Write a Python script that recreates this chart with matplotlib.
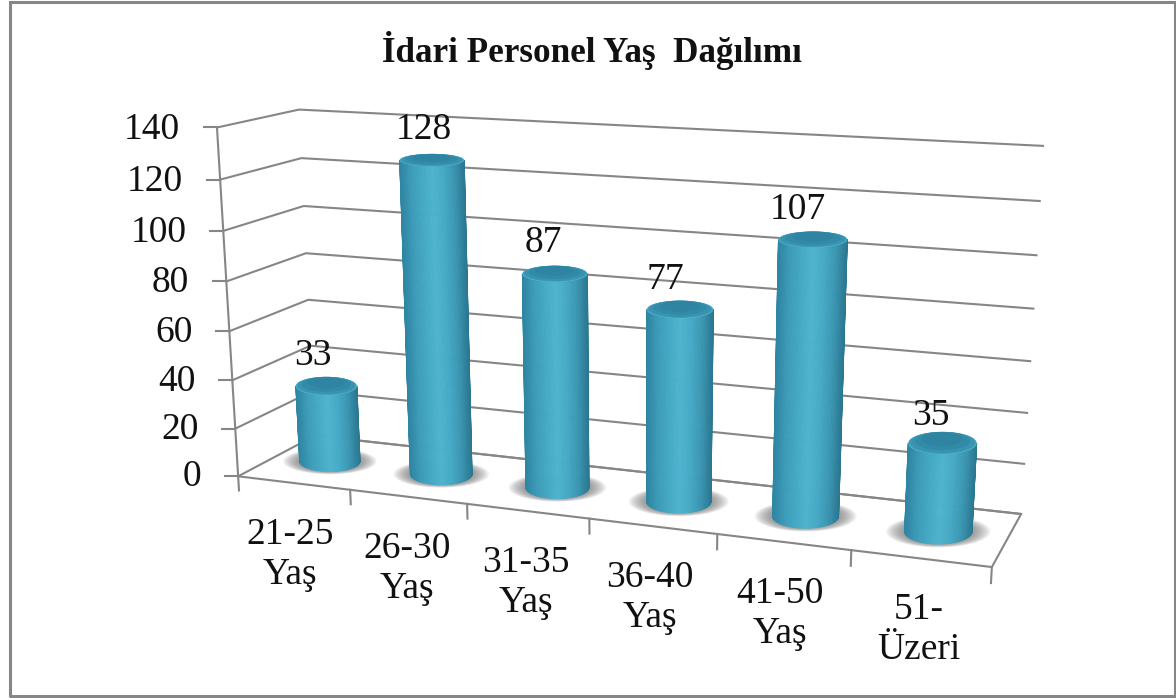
# Idari personel yas dagilimi - 3D cylinder chart drawn with a perspective projection
import numpy as np
import matplotlib
matplotlib.use('Agg')
import matplotlib.pyplot as plt
from matplotlib.collections import PolyCollection
from matplotlib.colors import LinearSegmentedColormap

# Chart data
categories = ['21-25\nYaş', '26-30\nYaş', '31-35\nYaş', '36-40\nYaş', '41-50\nYaş', '51-\nÜzeri']
values = [33, 128, 87, 77, 107, 35]
y_ticks = [0, 20, 40, 60, 80, 100, 120, 140]
title = 'İdari Personel Yaş  Dağılımı'

# Pixel position of the category labels and the value labels
cat_label_x = [290, 407, 526, 650, 780, 919]
cat_label_y = [552, 566, 580, 595, 611, 627]
val_label_x = [313, 424, 543, 665, 798, 931]
val_label_y = [353, 127, 240, 277, 207, 413]

# Box corners (category, depth, value) and where they land in the picture
corners_3d = [(0, 0, 0), (0, 0, 140), (0, 1, 0), (0, 1, 140),
              (6, 1, 0), (6, 1, 140), (6, 0, 0)]
corners_px = [(238, 475), (217, 128), (315, 437), (299, 109),
              (1021, 513), (1043, 146), (992, 568)]

GRID = '#868686'
FONT = 'Liberation Serif'
R_U = 0.27      # cylinder radius along categories
V_C = 0.50      # depth of the cylinder axis
TOP_DROP = 0.8  # the lids sit a little under the gridline of their value


# Fit the projection matrix from the corners
def fit_camera(pts3, pts2):
    rows = []
    for (u, v, y), (px, py) in zip(pts3, pts2):
        rows.append([u, v, y, 1, 0, 0, 0, 0, -px * u, -px * v, -px * y, -px])
        rows.append([0, 0, 0, 0, u, v, y, 1, -py * u, -py * v, -py * y, -py])
    _, _, vt = np.linalg.svd(np.array(rows, dtype=float))
    return vt[-1].reshape(3, 4)


cam = fit_camera(corners_3d, corners_px)


def proj(u, v, y):
    u, v, y = np.broadcast_arrays(u, v, y)
    p = cam @ np.vstack([u.ravel(), v.ravel(), y.ravel(), np.ones(u.size)])
    return p[0] / p[2], p[1] / p[2]


# Flat ellipse of a cylinder end: centre, half width, half height in pixels
def disc(uc, val):
    x, y = proj([uc - 0.5, uc, uc + 0.5], V_C, val)
    a = (x[2] - x[0]) * R_U * (1.04 - 0.021 * uc)
    b = a * (0.12 + 0.00047 * y[1])
    return x[1], y[1], a, b


fig = plt.figure(figsize=(11.76, 6.98), dpi=100)
ax = fig.add_axes([0, 0, 1, 1])
ax.set_xlim(0, 1176)
ax.set_ylim(698, 0)
ax.axis('off')

# Outer frame
ax.plot([9.5, 1174.5, 1174.5, 9.5, 9.5], [2, 2, 695.5, 695.5, 2], color=GRID, lw=2.2, zorder=1)

# Grid on the left and back walls
for t in y_ticks:
    x, y = proj([0, 0, 6], [0, 1, 1], t)
    ax.plot(x, y, color=GRID, lw=1.5, zorder=2, solid_joinstyle='round')
    ax.plot([x[0] - 13, x[0]], [y[0], y[0]], color=GRID, lw=1.5, zorder=2)
    ax.text(x[0] - 37, y[0] + 0.5 + t / 70, str(t), family=FONT, fontsize=27, ha='right', va='center',
            color='#111111', zorder=6)

# Left axis and floor
x, y = proj([0, 0], [0, 0], [0, 140])
ax.plot(x, y, color=GRID, lw=1.5, zorder=2)
x, y = proj([0, 6, 6, 0], [0, 0, 1, 1], 0)
ax.plot(x, y, color=GRID, lw=1.5, zorder=2)

# Category ticks
for i in range(len(categories) + 1):
    x, y = proj([i, i], [0, 0], [0, -6])
    ax.plot(x, y, color=GRID, lw=1.5, zorder=2)

# Left to right across the body
body_cmap = LinearSegmentedColormap.from_list(
    'body', ['#2f86a3', '#3c9cb9', '#45a9c4', '#4fb4cf', '#46a9c5', '#3a95b1', '#2b7690'])

th_front = np.linspace(0, np.pi, 61)
th_full = np.linspace(0, 2 * np.pi, 73)

for i, val in enumerate(values):
    uc = i + 0.5
    uc = uc - 0.0185 + 0.003 * uc
    bx, by, ba, bb = disc(uc, 0)
    tx, ty, ta, tb = disc(uc, val - TOP_DROP)

    # Soft shadow on the floor
    for s in np.linspace(1.55, 1.0, 14):
        ax.fill(bx + ba * s * np.cos(th_full), by + bb * (1 + (s - 1) * 0.5) * np.sin(th_full),
                color='#666666', alpha=0.07, lw=0, zorder=3)

    # Body, one strip per angle so the shading follows the round side
    low_x = bx + ba * np.cos(th_front)
    low_y = by + bb * np.sin(th_front)
    up_x = tx + ta * np.cos(th_front)
    up_y = ty + tb * np.sin(th_front)
    polys = []
    cols = []
    for k in range(len(th_front) - 1):
        polys.append([(low_x[k], low_y[k]), (low_x[k + 1], low_y[k + 1]),
                      (up_x[k + 1], up_y[k + 1]), (up_x[k], up_y[k])])
        # colour by position across the width
        cols.append(body_cmap(0.5 + 0.5 * np.cos(th_front[k] + np.pi / 120)))
    ax.add_collection(PolyCollection(polys, facecolors=cols, edgecolors=cols, linewidths=0.6,
                                     zorder=4 + i * 0.01))

    # Top of the cylinder, light rim at the front then the darker lid
    ax.fill(tx + ta * np.cos(th_full), ty + tb * np.sin(th_full), color='#5abbd4', lw=0, zorder=4.2 + i * 0.01)
    for s, c in zip([0.985, 0.93, 0.8, 0.6], ['#3f9fbb', '#3793b0', '#318aa7', '#2e84a1']):
        ax.fill(tx + ta * s * np.cos(th_full), ty - tb * (1 - s) * 0.9 + tb * s * np.sin(th_full),
                color=c, lw=0, zorder=4.2 + i * 0.01)

# Text
ax.text(592, 51, title, family=FONT, fontsize=25.3, fontweight='bold', ha='center', va='center',
        color='#111111', zorder=6)
for i, lab in enumerate(categories):
    ax.text(cat_label_x[i], cat_label_y[i] + 3, lab, family=FONT, fontsize=27, ha='center', va='center',
            linespacing=1.2, color='#111111', zorder=6)
for i, val in enumerate(values):
    ax.text(val_label_x[i], val_label_y[i] + 3, str(val), family=FONT, fontsize=27, ha='center', va='center',
            color='#111111', zorder=6)

fig.savefig('out.png', dpi=100, facecolor='white')
